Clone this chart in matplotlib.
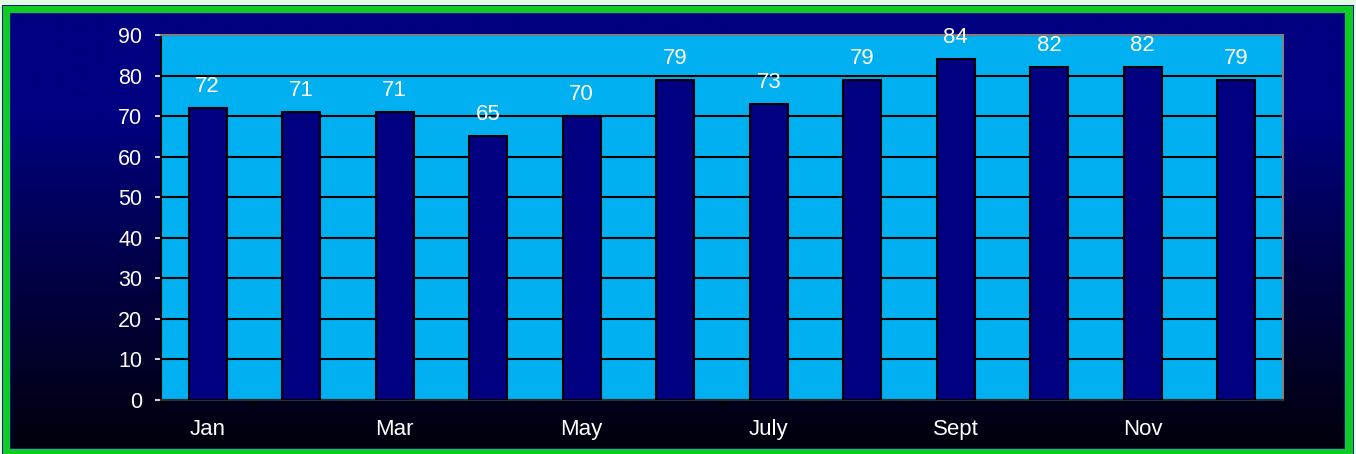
import numpy as np
import matplotlib
matplotlib.use("Agg")
import matplotlib.pyplot as plt
from matplotlib.patches import Rectangle

plt.rcParams["font.family"] = ["Liberation Sans", "DejaVu Sans"]

months = ["Jan", "Feb", "Mar", "Apr", "May", "June",
          "July", "Aug", "Sept", "Oct", "Nov", "Dec"]
values = [72, 71, 71, 65, 70, 79, 73, 79, 84, 82, 82, 79]
shown_labels = ["Jan", "", "Mar", "", "May", "", "July", "", "Sept", "", "Nov", ""]

W, H = 1356, 454
fig = plt.figure(figsize=(W / 100, H / 100), dpi=100)
fig.patch.set_facecolor("#E2FAE2")

def fr(x0, y0, x1, y1):
    # pixel box (top-left origin) -> figure fraction rect
    return [x0 / W, 1 - y1 / H, (x1 - x0) / W, (y1 - y0) / H]

# frame drawn in a full-figure axes using pixel coords
frame = fig.add_axes([0, 0, 1, 1], zorder=-2)
frame.set_axis_off()
frame.set_xlim(0, W)
frame.set_ylim(H, 0)
frame.add_patch(Rectangle((2, 5), 1352, H - 5, facecolor="#1414A0", edgecolor="none"))
frame.add_patch(Rectangle((3, 6), 1350, H - 6, facecolor="#10CC20", edgecolor="none"))

# gradient background
bg = fig.add_axes(fr(10, 13, 1345, 449), zorder=-1)
bg.set_axis_off()
grad = np.linspace(0, 1, 256)
top = np.array([0, 0, 128]) / 255
bot = np.array([2, 0, 12]) / 255
t = np.clip((grad - 0.25) / 0.75, 0, 1) ** 0.9
img = (top[None, :] * (1 - t)[:, None] + bot[None, :] * t[:, None]).reshape(256, 1, 3)
bg.imshow(img, aspect="auto", extent=[0, 1, 0, 1], interpolation="bilinear")
bg.add_patch(Rectangle((0, 0), 1, 1, transform=bg.transAxes, fill=False,
                       edgecolor="#1010A0", linewidth=1.5))

ax = fig.add_axes(fr(161, 35, 1283, 400))
ax.set_facecolor("#00B0F0")
x = np.arange(len(months))
ax.bar(x, values, width=0.41, color="#000080", edgecolor="black", linewidth=1.5, zorder=3)
for xi, v in zip(x, values):
    ax.annotate(str(v), (xi, v), xytext=(0, 15.5), textcoords="offset points",
                ha="center", va="center", color="white", fontsize=16, zorder=4)

ax.set_xlim(-0.5, len(months) - 0.5)
ax.set_ylim(0, 90)
ax.set_yticks(range(0, 91, 10))
ax.yaxis.grid(True, color="black", linewidth=1.5, zorder=1)
ax.set_axisbelow(True)
ax.tick_params(axis="y", colors="white", labelsize=15.5, length=4.5, width=1.2, pad=9)
for tl in ax.get_yticklines():
    tl.set_color("black")

ax.set_xticks(np.arange(-0.5, len(months) + 0.5, 1))
ax.set_xticklabels([])
ax.set_xticks(x, minor=True)
ax.set_xticklabels(shown_labels, minor=True)
ax.tick_params(axis="x", which="major", length=4.5, width=1.2, color="black")
ax.tick_params(axis="x", which="minor", length=0, colors="white", labelsize=16, pad=14)

ax.spines["left"].set_color("black")
ax.spines["left"].set_linewidth(1.5)
ax.spines["bottom"].set_color("#303030")
ax.spines["bottom"].set_linewidth(1.5)
ax.spines["top"].set_color("#808080")
ax.spines["right"].set_color("#808080")
ax.spines["top"].set_linewidth(1.5)
ax.spines["right"].set_linewidth(1.5)

fig.savefig("out.png", dpi=100, facecolor=fig.get_facecolor())
